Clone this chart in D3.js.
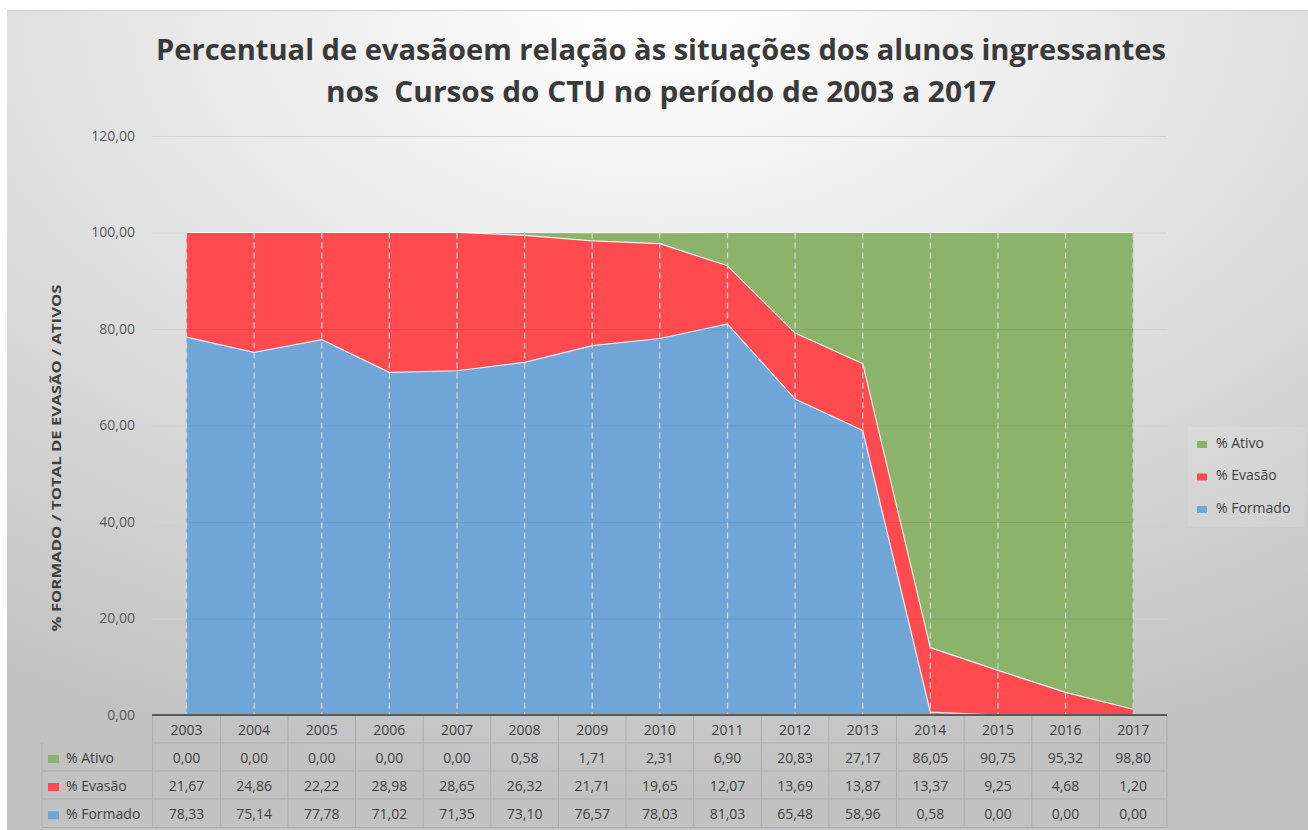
<!DOCTYPE html>
<html>
<head>
<meta charset="utf-8">
<script src="https://cdn.jsdelivr.net/npm/d3@7"></script>
<style>
  html, body { margin: 0; padding: 0; background: #ffffff; }
  svg { display: block; }
  text { font-family: "Open Sans", "Noto Sans", sans-serif; white-space: pre; }
</style>
</head>
<body>
<svg id="chart" width="1308" height="830"></svg>
<script>
// ---------------- DATA ----------------
const years = ["2003","2004","2005","2006","2007","2008","2009","2010","2011","2012","2013","2014","2015","2016","2017"];
const ativo   = [0.00,0.00,0.00,0.00,0.00,0.58,1.71,2.31,6.90,20.83,27.17,86.05,90.75,95.32,98.80];
const evasao  = [21.67,24.86,22.22,28.98,28.65,26.32,21.71,19.65,12.07,13.69,13.87,13.37,9.25,4.68,1.20];
const formado = [78.33,75.14,77.78,71.02,71.35,73.10,76.57,78.03,81.03,65.48,58.96,0.58,0.00,0.00,0.00];
const seriesNames = ["% Formado", "% Evasão", "% Ativo"];
const yTicks = [0,20,40,60,80,100,120];
const titleLines = ["Percentual de evasãoem relação às situações dos alunos ingressantes", "nos  Cursos do CTU no período de 2003 a 2017"];
const yTitle = "% FORMADO / TOTAL DE EVASÃO / ATIVOS";

// ---------------- SETUP ----------------
const colors = { "% Formado": "#6FA6D7", "% Evasão": "#FF4B50", "% Ativo": "#8BB36C" };
const svg = d3.select("#chart");
const fmt = v => v.toFixed(2).replace(".", ",");

const defs = svg.append("defs");
const grad = defs.append("radialGradient").attr("id","bg")
  .attr("cx","50%").attr("cy","0%").attr("r","95%").attr("fx","50%").attr("fy","0%");
grad.append("stop").attr("offset","0%").attr("stop-color","#ffffff");
grad.append("stop").attr("offset","35%").attr("stop-color","#ebebeb");
grad.append("stop").attr("offset","100%").attr("stop-color","#c2c2c2");

svg.append("rect").attr("x",7).attr("y",10).attr("width",1301).attr("height",820)
  .attr("fill","url(#bg)");
svg.append("line").attr("x1",7).attr("x2",1308).attr("y1",10.5).attr("y2",10.5)
  .attr("stroke","#cfcfcf").attr("stroke-width",1);

const x = d3.scaleBand().domain(years).range([152.7, 1167]).padding(0);
const xc = d => x(d) + x.bandwidth()/2;
const y = d3.scaleLinear().domain([0,120]).range([715, 136]);

// ---------------- TITLE ----------------
const tg = svg.append("g");
titleLines.forEach((t,i) => {
  const el = tg.append("text").attr("x", 661).attr("y", i===0 ? 60 : 102)
    .attr("text-anchor","middle").attr("font-size", 28).attr("font-weight","bold")
    .attr("fill","#3a3a3a").text(t);
  el.attr("textLength", i===0 ? 1010 : 670).attr("lengthAdjust","spacingAndGlyphs");
});

// ---------------- GRID ----------------
svg.append("g").selectAll("line").data(yTicks.filter(d=>d>0)).join("line")
  .attr("x1",152).attr("x2",1167).attr("y1",d=>y(d)+0.5).attr("y2",d=>y(d)+0.5)
  .attr("stroke","#d2d2d2").attr("stroke-width",1);

// y axis labels
svg.append("g").selectAll("text").data(yTicks).join("text")
  .attr("x",135).attr("y",d=>y(d)).attr("dy","0.35em").attr("text-anchor","end")
  .attr("font-size",14).attr("fill","#595959").text(d=>fmt(d));

// y title
svg.append("text").attr("transform","translate(61,458) rotate(-90)")
  .attr("text-anchor","middle").attr("font-size",13).attr("font-weight","bold")
  .attr("fill","#404040").attr("textLength",347).attr("lengthAdjust","spacingAndGlyphs")
  .text(yTitle);

// ---------------- STACKED AREAS ----------------
const rows = years.map((yr,i) => ({ year: yr, "% Formado": formado[i], "% Evasão": evasao[i], "% Ativo": ativo[i] }));
const stack = d3.stack().keys(seriesNames)(rows);
const area = d3.area().x(d => xc(d.data.year)).y0(d => y(d[0])).y1(d => y(d[1]));
const line = d3.line().x(d => xc(d.data.year)).y(d => y(d[1]));
svg.append("g").selectAll("path").data(stack).join("path")
  .attr("d", area).attr("fill", d => colors[d.key]);
svg.append("g").selectAll("path").data(stack).join("path")
  .attr("d", line).attr("fill","none").attr("stroke","#ffffff").attr("stroke-width",1.2).attr("stroke-opacity",0.85);

// faint gridlines visible over areas
svg.append("g").selectAll("line").data(yTicks.filter(d=>d>0 && d<100)).join("line")
  .attr("x1",xc(years[0])).attr("x2",xc(years[years.length-1])).attr("y1",d=>y(d)+0.5).attr("y2",d=>y(d)+0.5)
  .attr("stroke","#000").attr("stroke-opacity",0.06).attr("stroke-width",1);

// drop lines
const tops = rows.map(r => r["% Formado"] + r["% Evasão"] + r["% Ativo"]);
svg.append("g").selectAll("line").data(years).join("line")
  .attr("x1",d=>xc(d)).attr("x2",d=>xc(d)).attr("y1",(d,i)=>y(tops[i])).attr("y2",y(0))
  .attr("stroke","#d4d4d4").attr("stroke-width",1.3).attr("stroke-dasharray","6,4");

// ---------------- DATA TABLE ----------------
const tbl = svg.append("g");
const rowTop = [715, 743, 771, 799, 827.5];
const leftX = 42, dataL = 152.7, dataR = 1167;
const gridC = "#adadad";
tbl.append("line").attr("x1",dataL).attr("x2",dataR).attr("y1",rowTop[1]).attr("y2",rowTop[1]).attr("stroke",gridC);
[2,3,4].forEach(k => tbl.append("line").attr("x1",leftX).attr("x2",dataR).attr("y1",rowTop[k]).attr("y2",rowTop[k]).attr("stroke",gridC));
tbl.append("line").attr("x1",leftX).attr("x2",leftX).attr("y1",rowTop[1]).attr("y2",rowTop[4]).attr("stroke",gridC);
tbl.selectAll(".vl").data(years.concat(["end"])).join("line")
  .attr("x1",d=> d==="end" ? dataR : x(d)).attr("x2",d=> d==="end" ? dataR : x(d))
  .attr("y1",rowTop[0]).attr("y2",rowTop[4]).attr("stroke",gridC);
tbl.append("line").attr("x1",152).attr("x2",dataR).attr("y1",715).attr("y2",715)
  .attr("stroke","#595959").attr("stroke-width",2);

tbl.selectAll(".yr").data(years).join("text")
  .attr("x",d=>xc(d)).attr("y",(rowTop[0]+rowTop[1])/2+1).attr("dy","0.35em")
  .attr("text-anchor","middle").attr("font-size",14).attr("fill","#404040").text(d=>d);

const tableRows = [
  { name: "% Ativo", vals: ativo },
  { name: "% Evasão", vals: evasao },
  { name: "% Formado", vals: formado }
];
tableRows.forEach((r,k) => {
  const cy = (rowTop[k+1]+rowTop[k+2])/2 + 1;
  tbl.append("rect").attr("x",48).attr("y",cy-3).attr("width",11).attr("height",8).attr("fill",colors[r.name]);
  tbl.append("text").attr("x",66).attr("y",cy).attr("dy","0.35em")
    .attr("font-size",14).attr("fill","#404040").text(r.name);
  tbl.selectAll(null).data(r.vals).join("text")
    .attr("x",(d,i)=>xc(years[i])).attr("y",cy).attr("dy","0.35em")
    .attr("text-anchor","middle").attr("font-size",14).attr("fill","#404040").text(d=>fmt(d));
});

// ---------------- LEGEND ----------------
const lg = svg.append("g");
lg.append("rect").attr("x",1188).attr("y",427).attr("width",117).attr("height",100)
  .attr("fill","#ffffff").attr("fill-opacity",0.1);
const legendItems = ["% Ativo", "% Evasão", "% Formado"];
legendItems.forEach((n,i) => {
  const cy = 443 + i*32.5;
  lg.append("rect").attr("x",1197).attr("y",cy-2).attr("width",10).attr("height",7).attr("fill",colors[n]);
  lg.append("text").attr("x",1216).attr("y",cy).attr("dy","0.35em")
    .attr("font-size",14).attr("fill","#404040").text(n);
});
</script>
</body>
</html>
